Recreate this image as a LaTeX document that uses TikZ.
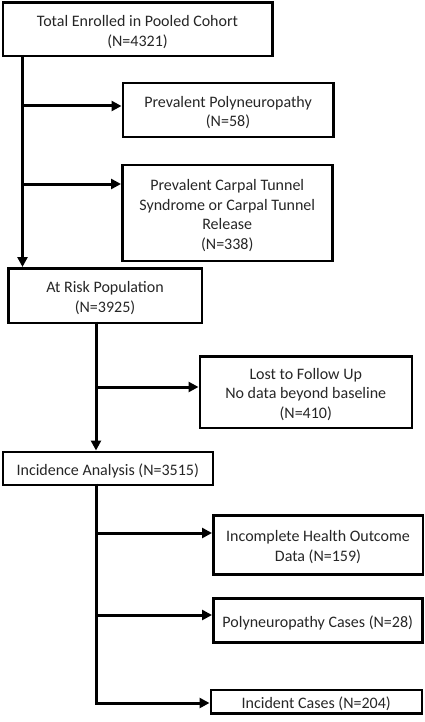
\documentclass[tikz,border=0pt]{standalone}
\usepackage{fontspec}
\setmainfont{Carlito}
\usetikzlibrary{arrows.meta}
\newcommand{\bxt}[1]{\raisebox{-3pt}[\height][\depth]{\begin{tabular}{@{}c@{}}#1\end{tabular}}}
\begin{document}
\begin{tikzpicture}[x=1pt,y=-1pt,
  box/.style={draw, line width=2.5pt, inner sep=0pt, anchor=north west,
    font=\fontsize{16}{19.5}\selectfont, text=black!85},
  conn/.style={line width=3pt, line join=miter, -{Triangle[length=10pt,width=10pt]}}]
\useasboundingbox (0,0) rectangle (424,722);
\node[box, minimum width=269.5pt, minimum height=53.5pt] (b1) at (1.5,1.5) {\bxt{Total Enrolled in Pooled Cohort\\(N=4321)}};
\node[box, minimum width=210.5pt, minimum height=54pt] (b2) at (121.5,82) {\bxt{Prevalent Polyneuropathy\\(N=58)}};
\node[box, minimum width=210pt, minimum height=95.5pt] (b3) at (121,164) {\bxt{Prevalent Carpal Tunnel\\Syndrome or Carpal Tunnel\\Release\\(N=338)}};
\node[box, minimum width=193.5pt, minimum height=54.5pt] (b4) at (7,267) {\bxt{At Risk Population\\(N=3925)}};
\node[box, minimum width=212pt, minimum height=71.5pt] (b5) at (198.5,355) {\bxt{Lost to Follow Up\\No data beyond baseline\\(N=410)}};
\node[box, minimum width=210pt, minimum height=33pt] (b6) at (1.5,450.5) {\bxt{Incidence Analysis (N=3515)}};
\node[box, minimum width=209.5pt, minimum height=59pt] (b7) at (212,514) {\bxt{Incomplete Health Outcome\\Data (N=159)}};
\node[box, minimum width=209pt, minimum height=44pt] (b8) at (212,597) {\bxt{Polyneuropathy Cases (N=28)}};
\node[box, minimum width=211pt, minimum height=23.5pt] (b9) at (209.5,688.5) {\bxt{Incident Cases (N=204)}};
% trunk 1
\coordinate (s1) at (22.5,55);
\coordinate (j1) at (22.5,106);
\coordinate (j2) at (22.5,184);
\draw[conn] (s1) -- (s1 |- b4.north);
\draw[conn] (j1) -- (j1 -| b2.west);
\draw[conn] (j2) -- (j2 -| b3.west);
% trunk 2
\coordinate (s2) at (96,321.5);
\coordinate (j3) at (96,387);
\draw[conn] (s2) -- (s2 |- b6.north);
\draw[conn] (j3) -- (j3 -| b5.west);
% trunk 3
\coordinate (s3) at (96,483.5);
\coordinate (j4) at (96,533);
\coordinate (j5) at (96,615);
\coordinate (c3) at (96,703);
\draw[conn] (s3) -- (c3) -- (c3 -| b9.west);
\draw[conn] (j4) -- (j4 -| b7.west);
\draw[conn] (j5) -- (j5 -| b8.west);
\end{tikzpicture}
\end{document}
